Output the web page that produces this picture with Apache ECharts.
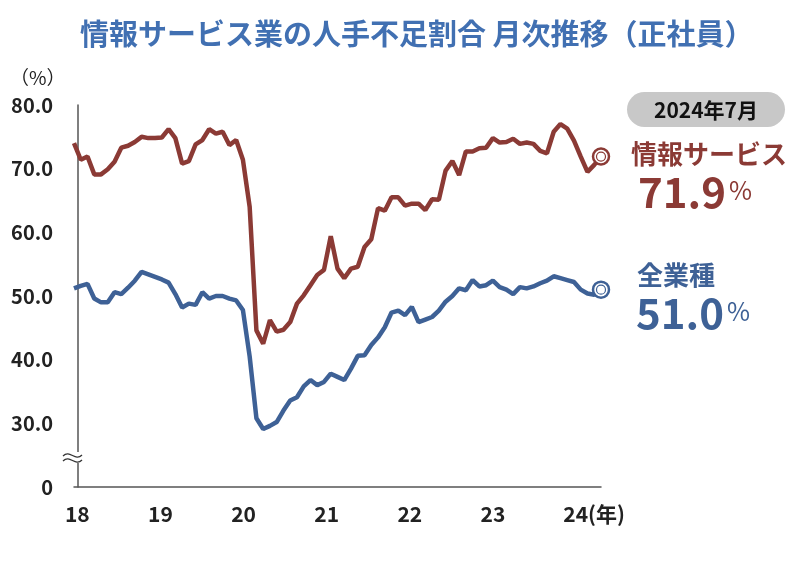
<!DOCTYPE html>
<html><head><meta charset="utf-8">
<script src="https://cdn.jsdelivr.net/npm/echarts@6/dist/echarts.min.js"></script>
<style>html,body{margin:0;padding:0;background:#fff}#c{width:806px;height:564px}</style>
</head><body><div id="c"></div>
<script>
const titleText = '情報サービス業の人手不足割合 月次推移（正社員）';
const seriesNames = ['情報サービス', '全業種'];
const yearLabels = ['18', '19', '20', '21', '22', '23', '24'];
const months = [];
for (let y = 2018; y <= 2024; y++) {
  for (let m = 1; m <= 12; m++) {
    if (y === 2024 && m > 7) break;
    months.push(y + '年' + m + '月');
  }
}
const infoService = [
  74.0, 71.4, 71.9, 69.1, 69.1, 69.9, 71.1, 73.3, 73.6, 74.2, 75.0, 74.8,
  74.8, 74.9, 76.2, 74.8, 70.8, 71.2, 73.8, 74.5, 76.2, 75.5, 75.8, 73.7,
  74.5, 71.4, 64.0, 44.6, 42.5, 46.2, 44.4, 44.7, 45.9, 48.8, 50.1, 51.7,
  53.3, 54.1, 59.4, 54.3, 52.8, 54.3, 54.6, 57.7, 58.9, 63.8, 63.4, 65.5,
  65.5, 64.2, 64.5, 64.5, 63.5, 65.2, 65.1, 69.7, 71.2, 69.0, 72.7, 72.7,
  73.2, 73.3, 74.8, 74.1, 74.2, 74.7, 73.9, 74.1, 73.9, 72.8, 72.4, 75.8,
  77.0, 76.3, 74.4, 71.9, 69.5, 70.6, 71.9
];
const allIndustries = [
  51.2, 51.6, 51.9, 49.6, 49.0, 49.0, 50.6, 50.3, 51.3, 52.4, 53.8, 53.4,
  53.0, 52.6, 52.1, 50.3, 48.2, 48.8, 48.6, 50.6, 49.6, 50.0, 50.0, 49.6,
  49.3, 47.8, 40.5, 30.8, 29.1, 29.6, 30.2, 32.0, 33.6, 34.1, 35.8, 36.8,
  36.0, 36.5, 37.8, 37.3, 36.8, 38.6, 40.6, 40.7, 42.3, 43.5, 45.1, 47.4,
  47.7, 47.0, 48.3, 45.9, 46.3, 46.7, 47.7, 49.1, 50.0, 51.2, 50.9, 52.5,
  51.5, 51.7, 52.4, 51.4, 51.0, 50.3, 51.4, 51.2, 51.5, 52.0, 52.4, 53.1,
  52.8, 52.5, 52.2, 51.0, 50.4, 50.2, 51.0
];

const RED = '#8b3a35';
const BLUE = '#3e6196';
const FONT = '"Noto Sans CJK JP", "Noto Sans", sans-serif';
const last = months.length - 1;

function endMarker(color, series) {
  return {
    symbol: 'circle',
    silent: true,
    label: { show: false },
    data: [
      { coord: [last, series[last]], symbolSize: 16, itemStyle: { color: '#fff', borderColor: color, borderWidth: 2.5 } },
      { coord: [last, series[last]], symbolSize: 9, itemStyle: { color: '#fff', borderColor: color, borderWidth: 1.2 } }
    ]
  };
}

const chart = echarts.init(document.getElementById('c'), null, { renderer: 'canvas' });
chart.setOption({
  animation: false,
  backgroundColor: '#fff',
  textStyle: { fontFamily: FONT },
  title: {
    text: titleText, left: 75, top: 14,
    textStyle: { color: '#4170b2', fontSize: 29, fontWeight: 'bold', fontFamily: FONT }
  },
  grid: { left: 74, right: 205, top: 105, bottom: 77 },
  xAxis: [
    {
      type: 'category', data: months, boundaryGap: false,
      axisLine: { lineStyle: { color: '#555', width: 1.5 } },
      axisTick: { show: false }, axisLabel: { show: false }, splitLine: { show: false }
    },
    {
      type: 'value', position: 'bottom', min: -0.04, max: 6.30,
      axisLine: { show: false }, axisTick: { show: false }, splitLine: { show: false },
      axisLabel: {
        customValues: [0, 1, 2, 3, 4, 5, 6],
        margin: 17, fontSize: 21, fontWeight: 'bold', color: '#222', fontFamily: FONT,
        formatter: function (v) {
          const i = Math.round(v);
          if (i === yearLabels.length - 1) return '{sp|}{y|' + yearLabels[i] + '}{u|(年)}';
          return yearLabels[i];
        },
        rich: {
          sp: { width: 36 },
          y: { fontSize: 21, fontWeight: 'bold', color: '#222', fontFamily: FONT },
          u: { fontSize: 21, fontWeight: 'bold', color: '#222', fontFamily: FONT }
        }
      }
    }
  ],
  yAxis: {
    type: 'value', min: 20, max: 80, interval: 10,
    axisLine: { show: true, lineStyle: { color: '#555', width: 1.5 } },
    axisTick: { show: false }, splitLine: { show: false },
    axisLabel: {
      margin: 21, fontSize: 20, fontWeight: 'bold', color: '#222', fontFamily: FONT,
      formatter: function (v) { return v === 20 ? '0' : v.toFixed(1); }
    }
  },
  series: [
    {
      name: seriesNames[0], type: 'line', data: infoService, xAxisIndex: 0,
      symbol: 'none', lineStyle: { color: RED, width: 4.5 }, itemStyle: { color: RED },
      markPoint: endMarker(RED, infoService), z: 3
    },
    {
      name: seriesNames[1], type: 'line', data: allIndustries, xAxisIndex: 0,
      symbol: 'none', lineStyle: { color: BLUE, width: 4.5 }, itemStyle: { color: BLUE },
      markPoint: endMarker(BLUE, allIndustries), z: 3
    }
  ],
  graphic: [
    { type: 'text', x: 10, y: 68, style: { text: '（%）', font: '19px ' + FONT, fill: '#222' } },
    { type: 'rect', shape: { x: 66, y: 452, width: 16, height: 11 }, style: { fill: '#fff' }, z: 100 },
    { type: 'bezierCurve', shape: { x1: 63, y1: 456, x2: 82, y2: 455, cpx1: 70, cpy1: 449, cpx2: 75, cpy2: 462 }, style: { fill: 'none', stroke: '#333', lineWidth: 1.3 }, z: 101 },
    { type: 'bezierCurve', shape: { x1: 63, y1: 461, x2: 82, y2: 460, cpx1: 70, cpy1: 454, cpx2: 75, cpy2: 467 }, style: { fill: 'none', stroke: '#333', lineWidth: 1.3 }, z: 101 },
    { type: 'rect', shape: { x: 627, y: 92, width: 158, height: 35, r: 17.5 }, style: { fill: '#c8c8c8' } },
    { type: 'text', x: 706, y: 110, style: { text: months[last], font: 'bold 21px ' + FONT, fill: '#111', textAlign: 'center', textVerticalAlign: 'middle', align: 'center', verticalAlign: 'middle' } },
    { type: 'text', x: 631, y: 154, style: { text: seriesNames[0], font: 'bold 26px ' + FONT, fill: RED, textVerticalAlign: 'middle', verticalAlign: 'middle' } },
    { type: 'text', x: 638, y: 192, style: {
        text: '{n|' + infoService[last].toFixed(1) + '}{p|%}', fill: RED, textVerticalAlign: 'middle', verticalAlign: 'middle',
        rich: { n: { font: 'bold 42px ' + FONT, fill: RED }, p: { font: '25px ' + FONT, fill: RED, padding: [0, 0, 3, 3] } } } },
    { type: 'text', x: 637, y: 275, style: { text: seriesNames[1], font: 'bold 26px ' + FONT, fill: BLUE, textVerticalAlign: 'middle', verticalAlign: 'middle' } },
    { type: 'text', x: 636, y: 313, style: {
        text: '{n|' + allIndustries[last].toFixed(1) + '}{p|%}', fill: BLUE, textVerticalAlign: 'middle', verticalAlign: 'middle',
        rich: { n: { font: 'bold 42px ' + FONT, fill: BLUE }, p: { font: '25px ' + FONT, fill: BLUE, padding: [0, 0, 3, 3] } } } }
  ]
});
</script>
</body></html>
